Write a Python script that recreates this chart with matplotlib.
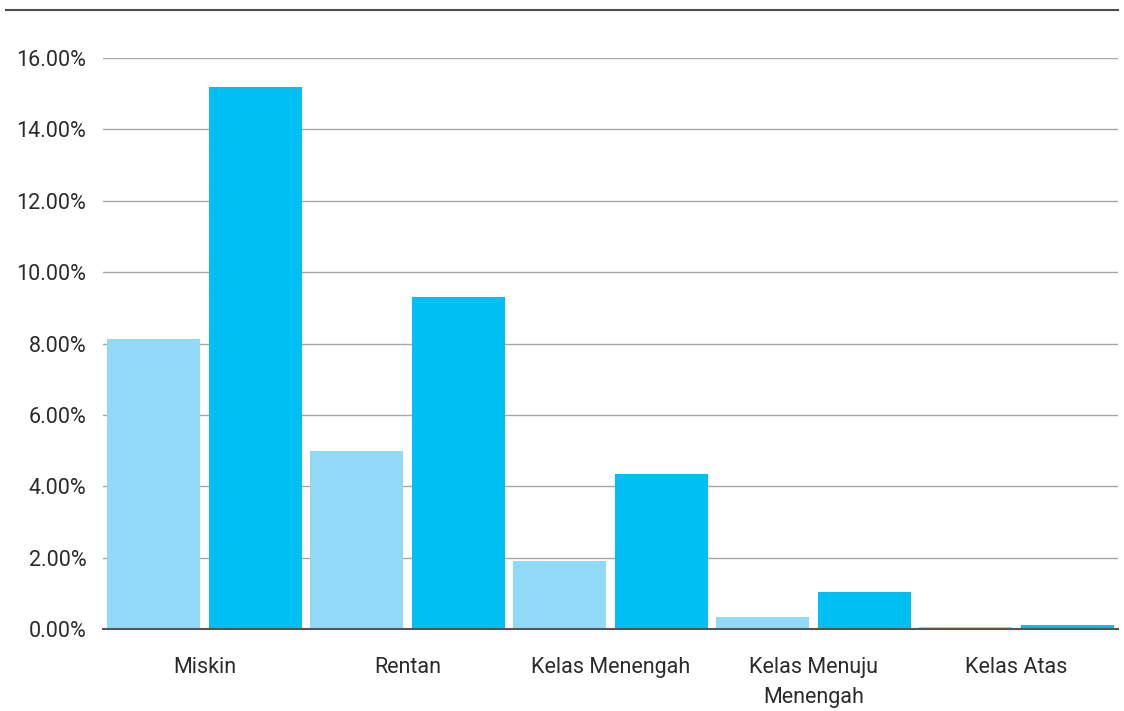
import numpy as np
import matplotlib.pyplot as plt
from matplotlib.lines import Line2D
from matplotlib.ticker import FuncFormatter

plt.rcParams['font.family'] = ['Roboto', 'DejaVu Sans']

categories = ["Miskin", "Rentan", "Kelas Menengah", "Kelas Menuju\nMenengah", "Kelas Atas"]
series_a = [8.12, 4.99, 1.90, 0.34, 0.06]
series_b = [15.18, 9.30, 4.34, 1.04, 0.11]

light = "#92D9F7"
dark = "#00BFF3"

fig = plt.figure(figsize=(11.24, 7.11), dpi=100)
ax = fig.add_axes([103 / 1124, 82 / 711, 1015 / 1124, 571 / 711])

x = np.arange(len(categories))
w = 0.457
ax.bar(x - 0.25, series_a, width=w, color=light, zorder=3)
ax.bar(x + 0.25, series_b, width=w, color=dark, zorder=3)

ax.set_xlim(-0.5, len(categories) - 0.5)
ax.set_ylim(0, 16)
ax.set_yticks(np.arange(0, 17, 2))
ax.yaxis.set_major_formatter(FuncFormatter(lambda v, p: f"{v:.2f}%"))
ax.set_xticks(x)
ax.set_xticklabels(categories, linespacing=1.55)

ax.grid(axis="y", color="#a6a6a6", linewidth=1.0, zorder=0)
for s in ["top", "right", "left"]:
    ax.spines[s].set_visible(False)
ax.spines["bottom"].set_color("#555555")
ax.spines["bottom"].set_linewidth(1.5)
ax.spines["bottom"].set_zorder(4)

ax.tick_params(axis="both", length=0, labelsize=15.5, labelcolor="#2b2b2b")
ax.tick_params(axis="y", pad=12)
ax.tick_params(axis="x", pad=20)

# rule across the top of the figure
fig.add_artist(Line2D([6 / 1124, 1118 / 1124], [1 - 10 / 711, 1 - 10 / 711],
                      color="#4d4d4d", linewidth=1.5, transform=fig.transFigure))

fig.savefig("out.png", dpi=100)
